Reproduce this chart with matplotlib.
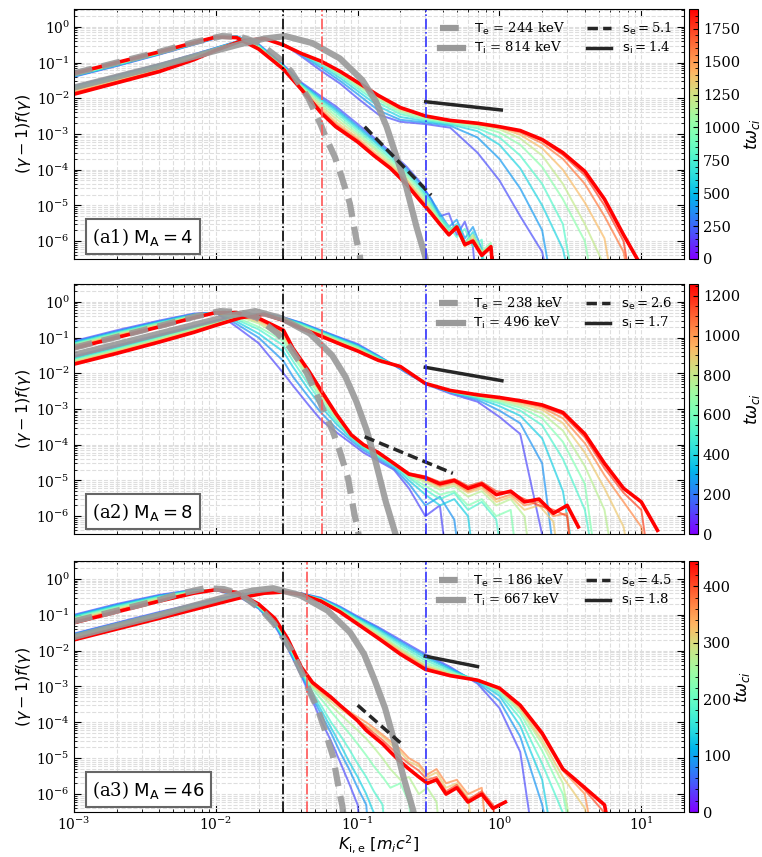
import matplotlib.pyplot as plt
from matplotlib import colors, cm
from matplotlib.lines import Line2D
from matplotlib.ticker import LogLocator, NullFormatter, FixedLocator

plt.rcParams['font.family'] = 'DejaVu Serif'
plt.rcParams['mathtext.fontset'] = 'dejavusans'

OFF = 1e-9  # below the axis: the curve has left the plot

# ---------------- panel (a1) M_A = 4 ----------------
p1_tmax = 1900
p1_t = [200, 400, 600, 800, 1000, 1200, 1400, 1600, 1750, 1900]
p1_xi = [1e-3, 2e-3, 4e-3, 7e-3, 1e-2, 1.5e-2, 2.2e-2, 3e-2, 4e-2, 5.5e-2, 7.5e-2, 0.1, 0.14,
         0.2, 0.3, 0.45, 0.7, 1.0, 1.4, 2.0, 2.8, 4.0, 5.5, 7.5, 10]
p1_ion = [
    [0.022, 0.044, 0.09, 0.17, 0.26, 0.42, 0.48, 0.33, 0.15, 0.06, 0.026, 0.01, 3.5e-3, 2.2e-3, 1.9e-3, 1.5e-3, 3e-4, 5e-5, 5e-6, 5e-7],
    [0.0215, 0.043, 0.088, 0.167, 0.257, 0.42, 0.48, 0.33, 0.165, 0.072, 0.031, 0.013, 4.6e-3, 2.5e-3, 2.1e-3, 1.7e-3, 8e-4, 2e-4, 3e-5, 2e-6],
    [0.021, 0.041, 0.085, 0.162, 0.252, 0.415, 0.48, 0.33, 0.17, 0.083, 0.037, 0.016, 6e-3, 3e-3, 2.3e-3, 1.85e-3, 1.2e-3, 5e-4, 1.1e-4, 1e-5, 6e-7],
    [0.0195, 0.039, 0.081, 0.157, 0.247, 0.41, 0.48, 0.33, 0.174, 0.093, 0.043, 0.019, 7.5e-3, 3.6e-3, 2.5e-3, 1.95e-3, 1.45e-3, 8e-4, 2.5e-4, 4e-5, 3e-6],
    [0.018, 0.036, 0.076, 0.15, 0.24, 0.41, 0.48, 0.325, 0.177, 0.1, 0.047, 0.022, 9e-3, 4.1e-3, 2.7e-3, 2.1e-3, 1.65e-3, 1.1e-3, 5e-4, 1.2e-4, 1.5e-5, 1e-6],
    [0.017, 0.033, 0.071, 0.143, 0.233, 0.405, 0.48, 0.32, 0.18, 0.104, 0.051, 0.024, 0.0102, 4.6e-3, 2.9e-3, 2.2e-3, 1.8e-3, 1.35e-3, 7.5e-4, 2.5e-4, 4e-5, 3e-6, 2e-7],
    [0.0155, 0.031, 0.065, 0.136, 0.227, 0.4, 0.48, 0.32, 0.18, 0.107, 0.054, 0.026, 0.011, 5e-3, 3.1e-3, 2.3e-3, 1.9e-3, 1.5e-3, 9.5e-4, 4e-4, 1e-4, 1.2e-5, 1.2e-6],
    [0.0145, 0.029, 0.061, 0.13, 0.224, 0.4, 0.475, 0.315, 0.18, 0.109, 0.056, 0.027, 0.0115, 5.2e-3, 3.15e-3, 2.35e-3, 1.95e-3, 1.55e-3, 1.1e-3, 5.5e-4, 2e-4, 4e-5, 5e-6, 5e-7],
    [0.0137, 0.028, 0.058, 0.125, 0.222, 0.4, 0.472, 0.312, 0.18, 0.11, 0.057, 0.0275, 0.0118, 5.4e-3, 3.2e-3, 2.4e-3, 2.0e-3, 1.6e-3, 1.2e-3, 6.5e-4, 2.6e-4, 7e-5, 1e-5, 1e-6],
    [0.013, 0.027, 0.056, 0.12, 0.22, 0.4, 0.47, 0.31, 0.18, 0.11, 0.057, 0.028, 0.012, 5.5e-3, 3.2e-3, 2.4e-3, 2.0e-3, 1.6e-3, 1.25e-3, 7e-4, 3e-4, 9e-5, 1.5e-5, 1.5e-6, 2e-7],
]
p1_xe = [1e-3, 2e-3, 4e-3, 7e-3, 1e-2, 1.4e-2, 2e-2, 3e-2, 4e-2, 5.5e-2, 7e-2, 0.1, 0.13, 0.17,
         0.22, 0.27, 0.33, 0.38, 0.44, 0.5, 0.57, 0.65, 0.75, 0.87, 1.0]
p1_ele = [
    [0.04, 0.08, 0.168, 0.318, 0.478, 0.55, 0.33, 0.086, 0.028, 0.0115, 6e-3, 1.9e-3, 8e-4, 3.2e-4, 1.25e-4, 5e-5, 1.5e-5, 5e-6, 6e-6, 1.5e-6, 3.5e-6, 7e-7],
    [0.041, 0.082, 0.172, 0.325, 0.485, 0.545, 0.32, 0.082, 0.026, 0.0102, 5.2e-3, 1.65e-3, 7e-4, 2.8e-4, 1.1e-4, 4.5e-5, 1.5e-5, 6e-6, 2.5e-6, 4e-6, 1.2e-6, 2.5e-6, 6e-7],
    [0.042, 0.084, 0.175, 0.33, 0.49, 0.54, 0.31, 0.079, 0.0245, 9.3e-3, 4.6e-3, 1.45e-3, 6.2e-4, 2.5e-4, 9.5e-5, 3.8e-5, 1.2e-5, 5e-6, 2e-6, 3e-6, 9e-7, 1.8e-6, 4e-7],
    [0.0435, 0.087, 0.178, 0.337, 0.495, 0.535, 0.295, 0.077, 0.0235, 8.3e-3, 4e-3, 1.25e-3, 5.3e-4, 2.1e-4, 8.3e-5, 3.2e-5, 1.05e-5, 4.2e-6, 2.6e-6, 1.3e-6, 2.2e-6, 7e-7, 1.1e-6],
    [0.045, 0.09, 0.182, 0.344, 0.5, 0.525, 0.28, 0.074, 0.022, 7.3e-3, 3.3e-3, 1.07e-3, 4.5e-4, 1.8e-4, 7e-5, 2.7e-5, 9e-6, 3.8e-6, 2e-6, 2.8e-6, 9e-7, 1.4e-6, 5e-7, 9e-7],
    [0.046, 0.092, 0.185, 0.35, 0.503, 0.52, 0.27, 0.072, 0.021, 6.3e-3, 2.7e-3, 9.2e-4, 3.9e-4, 1.55e-4, 5.8e-5, 2.2e-5, 8e-6, 3.4e-6, 1.7e-6, 2.3e-6, 8e-7, 1.5e-6, 5e-7, 7e-7],
    [0.047, 0.095, 0.19, 0.354, 0.508, 0.512, 0.255, 0.069, 0.0195, 5.3e-3, 2.2e-3, 7.8e-4, 3.2e-4, 1.35e-4, 5.2e-5, 1.9e-5, 7e-6, 3.1e-6, 1.6e-6, 2.1e-6, 7e-7, 1.2e-6, 4e-7, 6e-7],
    [0.048, 0.097, 0.194, 0.357, 0.512, 0.507, 0.248, 0.067, 0.0188, 4.6e-3, 1.9e-3, 6.9e-4, 2.8e-4, 1.2e-4, 4.6e-5, 1.7e-5, 6.5e-6, 3e-6, 1.5e-6, 2.4e-6, 7.5e-7, 1.1e-6, 4.5e-7, 6.5e-7],
    [0.049, 0.099, 0.197, 0.359, 0.516, 0.503, 0.244, 0.066, 0.0183, 4.3e-3, 1.75e-3, 6.4e-4, 2.6e-4, 1.15e-4, 4.2e-5, 1.6e-5, 6.2e-6, 2.9e-6, 1.5e-6, 2.2e-6, 8e-7, 1e-6, 4e-7, 7e-7],
    [0.05, 0.1, 0.2, 0.36, 0.52, 0.5, 0.24, 0.065, 0.018, 4e-3, 1.6e-3, 6e-4, 2.5e-4, 1.1e-4, 4e-5, 1.5e-5, 6e-6, 3e-6, 1.5e-6, 2.5e-6, 8e-7, 1e-6, 4e-7, 7e-7],
]
p1_te_x = [1e-3, 2e-3, 4e-3, 7e-3, 1.1e-2, 1.5e-2, 2e-2, 2.8e-2, 3.4e-2, 4.5e-2, 5.5e-2, 6e-2, 6.9e-2, 7.7e-2, 8.8e-2, 9.8e-2, 0.103, 0.108]
p1_te_y = [0.05, 0.1, 0.2, 0.37, 0.55, 0.52, 0.36, 0.13, 0.056, 1.0e-2, 1.8e-3, 7.6e-4, 2.3e-4, 6.4e-5, 1.15e-5, 1.1e-6, 4.7e-7, 1e-7]
p1_ti_x = [1e-3, 2e-3, 4e-3, 8e-3, 1.5e-2, 2.2e-2, 3.1e-2, 4.8e-2, 7.5e-2, 0.108, 0.135, 0.16, 0.19, 0.22, 0.26, 0.3, 0.32]
p1_ti_y = [0.02, 0.04, 0.08, 0.17, 0.33, 0.47, 0.55, 0.35, 0.13, 0.032, 8e-3, 1.6e-3, 2e-4, 3.3e-5, 2.5e-6, 3.6e-7, 1e-7]
p1_se_x, p1_se_y = [0.112, 0.33], [1.6e-3, 1.95e-5]
p1_si_x, p1_si_y = [0.302, 1.03], [8e-3, 4.7e-3]
p1_vlines = [0.03, 0.0557, 0.301]
p1_legend = ['244', '814', '5.1', '1.4']
p1_cticks = [0, 250, 500, 750, 1000, 1250, 1500, 1750]

# ---------------- panel (a2) M_A = 8 ----------------
p2_tmax = 1260
p2_t = [120, 250, 380, 510, 640, 770, 900, 1030, 1150, 1260]
p2_xi = [1e-3, 2e-3, 4e-3, 7e-3, 1e-2, 1.5e-2, 2.2e-2, 3e-2, 4e-2, 5.5e-2, 7.5e-2, 0.1, 0.14,
         0.2, 0.3, 0.45, 0.7, 1.0, 1.4, 2.0, 2.8, 4.0, 5.5, 7.5, 10, 13]
p2_ion = [
    [0.03, 0.06, 0.12, 0.21, 0.3, 0.42, 0.47, 0.37, 0.26, 0.16, 0.1, 0.066, 0.031, 0.013, 5e-3, 2.7e-3, 1.6e-3, 6e-4, 2e-4, 3e-7],
    [0.028, 0.056, 0.113, 0.2, 0.29, 0.41, 0.47, 0.365, 0.255, 0.155, 0.097, 0.062, 0.03, 0.0135, 5.1e-3, 2.9e-3, 1.8e-3, 9e-4, 4e-4, 3e-5],
    [0.026, 0.052, 0.107, 0.19, 0.28, 0.405, 0.465, 0.355, 0.245, 0.148, 0.092, 0.059, 0.029, 0.014, 5.1e-3, 3e-3, 2e-3, 1.2e-3, 6.5e-4, 1.5e-4, 5e-6],
    [0.025, 0.049, 0.101, 0.183, 0.272, 0.4, 0.462, 0.345, 0.235, 0.142, 0.087, 0.056, 0.028, 0.0143, 5.2e-3, 3.05e-3, 2.1e-3, 1.45e-3, 9e-4, 3.5e-4, 4e-5, 1.5e-6],
    [0.023, 0.046, 0.095, 0.176, 0.262, 0.395, 0.46, 0.337, 0.222, 0.136, 0.082, 0.053, 0.026, 0.0147, 5.2e-3, 3.1e-3, 2.2e-3, 1.6e-3, 1.1e-3, 5.5e-4, 1.2e-4, 8e-6],
    [0.022, 0.044, 0.09, 0.168, 0.25, 0.388, 0.458, 0.328, 0.21, 0.13, 0.078, 0.05, 0.025, 0.015, 5.2e-3, 3.2e-3, 2.3e-3, 1.75e-3, 1.25e-3, 7.5e-4, 2.5e-4, 2.5e-5, 1.5e-6],
    [0.0205, 0.041, 0.085, 0.158, 0.24, 0.375, 0.455, 0.315, 0.195, 0.122, 0.073, 0.046, 0.024, 0.0152, 5.2e-3, 3.25e-3, 2.4e-3, 1.9e-3, 1.4e-3, 9.5e-4, 4e-4, 6e-5, 6e-6, 5e-7],
    [0.0195, 0.039, 0.08, 0.15, 0.232, 0.368, 0.452, 0.308, 0.188, 0.117, 0.07, 0.044, 0.0235, 0.0153, 5.2e-3, 3.3e-3, 2.45e-3, 2.0e-3, 1.55e-3, 1.1e-3, 5.5e-4, 1.1e-4, 1.4e-5, 2.5e-6, 5e-7],
    [0.0188, 0.037, 0.077, 0.145, 0.226, 0.363, 0.45, 0.303, 0.183, 0.113, 0.068, 0.043, 0.0232, 0.0154, 5.2e-3, 3.3e-3, 2.5e-3, 2.05e-3, 1.65e-3, 1.2e-3, 7e-4, 1.6e-4, 2.2e-5, 4.5e-6, 1.5e-6],
    [0.018, 0.036, 0.075, 0.14, 0.22, 0.36, 0.45, 0.3, 0.18, 0.11, 0.066, 0.042, 0.023, 0.0155, 5.2e-3, 3.3e-3, 2.5e-3, 2.1e-3, 1.7e-3, 1.3e-3, 8e-4, 2e-4, 3e-5, 6e-6, 2.5e-6, 4e-7],
]
p2_xe = [1e-3, 2e-3, 4e-3, 7e-3, 1e-2, 1.4e-2, 2e-2, 3e-2, 3.5e-2, 4.5e-2, 5.5e-2, 7e-2, 9e-2, 0.11,
         0.14, 0.18, 0.23, 0.3, 0.38, 0.48, 0.6, 0.75, 0.95, 1.2, 1.5, 1.9, 2.4, 3.0, 3.6]
p2_ele = [
    [0.08, 0.16, 0.3, 0.47, 0.5, 0.2, 0.07, 0.01, 4.5e-3, 1.3e-3, 5e-4, 2.3e-4, 1.1e-4, 6e-5, 3.5e-5, 2e-5, 6e-6, 1e-6, 2e-6],
    [0.076, 0.15, 0.285, 0.455, 0.5, 0.24, 0.1, 0.022, 8e-3, 2.2e-3, 8e-4, 3e-4, 1.3e-4, 7e-5, 4e-5, 2.2e-5, 8e-6, 2e-6, 3.5e-6, 8e-7],
    [0.072, 0.14, 0.27, 0.44, 0.5, 0.28, 0.13, 0.04, 0.015, 3.5e-3, 1.2e-3, 4e-4, 1.5e-4, 8e-5, 4.5e-5, 2.5e-5, 1e-5, 4e-6, 2e-6, 3e-6, 1e-6],
    [0.068, 0.135, 0.26, 0.425, 0.5, 0.32, 0.17, 0.06, 0.022, 5e-3, 1.6e-3, 4.8e-4, 1.6e-4, 8.5e-5, 4.8e-5, 2.7e-5, 1.2e-5, 5.5e-6, 3e-6, 4.5e-6, 1.5e-6, 2.5e-6, 8e-7],
    [0.065, 0.13, 0.25, 0.41, 0.5, 0.36, 0.2, 0.08, 0.03, 7e-3, 2e-3, 5.5e-4, 1.7e-4, 9e-5, 5e-5, 2.8e-5, 1.3e-5, 7e-6, 4e-6, 5e-6, 2e-6, 3e-6, 1e-6, 1.5e-6],
    [0.061, 0.122, 0.235, 0.395, 0.5, 0.41, 0.25, 0.1, 0.037, 8.5e-3, 2.5e-3, 6.2e-4, 1.8e-4, 9.5e-5, 5.5e-5, 3e-5, 1.4e-5, 9e-6, 5.5e-6, 7e-6, 3.5e-6, 5e-6, 2e-6, 3e-6, 1e-6],
    [0.058, 0.116, 0.225, 0.385, 0.5, 0.44, 0.28, 0.12, 0.042, 9.8e-3, 2.8e-3, 6.8e-4, 1.85e-4, 9.8e-5, 5.8e-5, 3e-5, 1.5e-5, 1e-5, 6.5e-6, 8e-6, 4.5e-6, 6e-6, 2.5e-6, 3.5e-6, 1.5e-6, 2e-6, 7e-7],
    [0.055, 0.11, 0.21, 0.37, 0.5, 0.47, 0.31, 0.14, 0.046, 0.011, 3e-3, 7e-4, 1.85e-4, 1e-4, 6e-5, 3e-5, 1.5e-5, 1.1e-5, 7e-6, 9e-6, 5e-6, 7e-6, 3e-6, 4e-6, 2e-6, 2.5e-6, 1e-6, 1.2e-6],
    [0.052, 0.104, 0.205, 0.365, 0.5, 0.49, 0.33, 0.15, 0.048, 0.0115, 3.2e-3, 7.3e-4, 1.9e-4, 1e-4, 6e-5, 3e-5, 1.6e-5, 1.3e-5, 9e-6, 1.1e-5, 7e-6, 9e-6, 5e-6, 4.5e-6, 3e-6, 2e-6, 1.5e-6, 1e-6],
    [0.05, 0.1, 0.2, 0.36, 0.5, 0.5, 0.35, 0.16, 0.05, 0.012, 3.4e-3, 7.6e-4, 1.9e-4, 1e-4, 6e-5, 3e-5, 1.5e-5, 1.2e-5, 8e-6, 1e-5, 6e-6, 8e-6, 4e-6, 5e-6, 2.5e-6, 3e-6, 1.2e-6, 2e-6, 5e-7],
]
p2_te_x = [1e-3, 2e-3, 4e-3, 7e-3, 1.07e-2, 1.46e-2, 1.95e-2, 2.73e-2, 3.3e-2, 4.4e-2, 5.35e-2, 5.85e-2, 6.7e-2, 7.5e-2, 8.55e-2, 9.5e-2, 0.1, 0.105]
p2_te_y = [0.052, 0.104, 0.21, 0.38, 0.55, 0.52, 0.36, 0.13, 0.056, 1.0e-2, 1.8e-3, 7.6e-4, 2.3e-4, 6.4e-5, 1.15e-5, 1.1e-6, 4.7e-7, 1e-7]
p2_ti_x = [1e-3, 2e-3, 4e-3, 8e-3, 1.3e-2, 1.9e-2, 2.9e-2, 4.6e-2, 6.6e-2, 8.2e-2, 9.8e-2, 0.116, 0.134, 0.158, 0.183, 0.2]
p2_ti_y = [0.033, 0.065, 0.13, 0.26, 0.42, 0.55, 0.35, 0.13, 0.032, 8e-3, 1.6e-3, 2.5e-4, 3.3e-5, 2.5e-6, 3.6e-7, 1e-7]
p2_se_x, p2_se_y = [0.112, 0.469], [1.67e-4, 1.58e-5]
p2_si_x, p2_si_y = [0.3, 1.04], [0.0147, 6.2e-3]
p2_vlines = [0.03, 0.0557, 0.301]
p2_legend = ['238', '496', '2.6', '1.7']
p2_cticks = [0, 200, 400, 600, 800, 1000, 1200]

# ---------------- panel (a3) M_A = 46 ----------------
p3_tmax = 445
p3_t = [45, 90, 135, 180, 225, 270, 315, 360, 400, 445]
p3_xi = [1e-3, 2e-3, 4e-3, 7e-3, 1e-2, 1.5e-2, 2.2e-2, 3e-2, 4e-2, 5.5e-2, 7.5e-2, 0.1, 0.14,
         0.2, 0.3, 0.45, 0.7, 1.0, 1.4, 2.0, 2.8, 4.0, 5.5, 7.5]
p3_ion = [
    [0.03, 0.06, 0.12, 0.2, 0.27, 0.37, 0.44, 0.45, 0.4, 0.3, 0.17, 0.09, 0.045, 0.02, 8e-3, 3.5e-3, 1.2e-3, 2.5e-4, 1.5e-5],
    [0.029, 0.058, 0.115, 0.195, 0.26, 0.36, 0.435, 0.447, 0.395, 0.29, 0.162, 0.085, 0.042, 0.018, 7.2e-3, 3.2e-3, 1.3e-3, 4e-4, 4e-5, 5e-7],
    [0.028, 0.055, 0.11, 0.188, 0.25, 0.35, 0.43, 0.445, 0.39, 0.28, 0.155, 0.08, 0.039, 0.016, 6.3e-3, 3e-3, 1.4e-3, 5.5e-4, 8e-5, 2.5e-6],
    [0.026, 0.052, 0.104, 0.178, 0.24, 0.34, 0.425, 0.442, 0.387, 0.272, 0.148, 0.075, 0.035, 0.014, 5.4e-3, 2.7e-3, 1.5e-3, 6.5e-4, 1.3e-4, 7e-6, 3e-7],
    [0.025, 0.05, 0.098, 0.17, 0.23, 0.33, 0.418, 0.438, 0.383, 0.265, 0.14, 0.069, 0.031, 0.012, 4.6e-3, 2.45e-3, 1.5e-3, 7.5e-4, 1.8e-4, 1.6e-5, 1e-6],
    [0.024, 0.048, 0.094, 0.165, 0.22, 0.32, 0.41, 0.435, 0.38, 0.26, 0.135, 0.065, 0.028, 0.011, 4e-3, 2.3e-3, 1.5e-3, 8e-4, 2.2e-4, 2.5e-5, 2e-6],
    [0.023, 0.046, 0.09, 0.158, 0.215, 0.315, 0.408, 0.432, 0.377, 0.255, 0.131, 0.062, 0.026, 0.0102, 3.7e-3, 2.2e-3, 1.5e-3, 8.3e-4, 2.4e-4, 3.2e-5, 3e-6, 4e-7],
    [0.022, 0.044, 0.086, 0.15, 0.208, 0.31, 0.405, 0.43, 0.374, 0.25, 0.127, 0.059, 0.024, 9.2e-3, 3.4e-3, 2.1e-3, 1.5e-3, 8.6e-4, 2.7e-4, 4.2e-5, 4.5e-6, 1e-6],
    [0.021, 0.042, 0.083, 0.145, 0.204, 0.305, 0.402, 0.43, 0.372, 0.245, 0.123, 0.057, 0.023, 8.5e-3, 3.2e-3, 2.05e-3, 1.5e-3, 8.8e-4, 2.9e-4, 4.7e-5, 5e-6, 1.3e-6, 3e-7],
    [0.02, 0.04, 0.08, 0.14, 0.2, 0.3, 0.4, 0.43, 0.37, 0.24, 0.12, 0.055, 0.022, 8e-3, 3e-3, 2e-3, 1.5e-3, 9e-4, 3e-4, 5e-5, 5e-6, 1.5e-6, 5e-7],
]
p3_xe = [1e-3, 2e-3, 4e-3, 7e-3, 1e-2, 1.4e-2, 2e-2, 2.6e-2, 3.2e-2, 4e-2, 4.8e-2, 5.6e-2, 6.5e-2,
         7.5e-2, 8.7e-2, 0.1, 0.115, 0.13, 0.15, 0.17, 0.2, 0.23, 0.27, 0.31, 0.36, 0.42, 0.5,
         0.6, 0.75, 0.9, 1.1]
p3_ele = [
    [0.1, 0.2, 0.36, 0.5, 0.48, 0.35, 0.15, 0.05, 0.012, 2e-3, 4e-4, 1e-4, 3e-5, 8e-6, 2e-6, 5e-7],
    [0.096, 0.19, 0.345, 0.49, 0.485, 0.36, 0.155, 0.054, 0.013, 2.2e-3, 5e-4, 1.5e-4, 5e-5, 1.5e-5, 5e-6, 1.5e-6, 5e-7],
    [0.092, 0.18, 0.33, 0.48, 0.49, 0.37, 0.16, 0.058, 0.014, 2.4e-3, 6e-4, 2e-4, 7e-5, 2.5e-5, 8e-6, 3e-6, 1e-6, 3e-7],
    [0.087, 0.17, 0.32, 0.47, 0.49, 0.38, 0.165, 0.061, 0.015, 2.6e-3, 7e-4, 2.7e-4, 1e-4, 4.5e-5, 1.8e-5, 7e-6, 3e-6, 1.2e-6, 5e-7],
    [0.082, 0.162, 0.305, 0.455, 0.495, 0.39, 0.172, 0.066, 0.017, 2.9e-3, 8.8e-4, 4.2e-4, 2e-4, 1e-4, 5e-5, 2.5e-5, 1.2e-5, 6e-6, 3e-6, 1.5e-6, 2e-6, 6e-7],
    [0.076, 0.15, 0.29, 0.44, 0.5, 0.4, 0.18, 0.07, 0.018, 3.1e-3, 1e-3, 5.5e-4, 3e-4, 1.7e-4, 1e-4, 6e-5, 3.5e-5, 2e-5, 1e-5, 5e-6, 2.5e-6, 3e-6, 1e-6, 1.5e-6, 6e-7],
    [0.071, 0.14, 0.27, 0.43, 0.5, 0.405, 0.185, 0.072, 0.019, 3.2e-3, 1.1e-3, 6.3e-4, 3.8e-4, 2.4e-4, 1.6e-4, 1.1e-4, 8e-5, 6e-5, 4e-5, 2.5e-5, 1.5e-5, 8e-6, 6e-6, 3e-6, 4e-6, 1.5e-6, 2e-6, 8e-7],
    [0.067, 0.133, 0.258, 0.415, 0.5, 0.41, 0.19, 0.075, 0.02, 3.3e-3, 1.2e-3, 7e-4, 4.5e-4, 3e-4, 2e-4, 1.4e-4, 1e-4, 7e-5, 4.5e-5, 3e-5, 1.8e-5, 1e-5, 7e-6, 3.5e-6, 5e-6, 2e-6, 2.5e-6, 1e-6, 1.5e-6],
    [0.063, 0.126, 0.248, 0.405, 0.5, 0.415, 0.195, 0.078, 0.021, 3.4e-3, 1.25e-3, 7.5e-4, 4.8e-4, 3e-4, 1.9e-4, 1.2e-4, 7.5e-5, 5e-5, 3.2e-5, 2e-5, 1.1e-5, 7e-6, 4.5e-6, 2.5e-6, 3e-6, 1.2e-6, 1.8e-6, 7e-7, 1.2e-6, 5e-7],
    [0.06, 0.12, 0.24, 0.4, 0.5, 0.42, 0.2, 0.08, 0.022, 3.5e-3, 1.3e-3, 8e-4, 5e-4, 3e-4, 1.8e-4, 1.1e-4, 6e-5, 4e-5, 2.5e-5, 1.5e-5, 8e-6, 5e-6, 3e-6, 2e-6, 2.5e-6, 1e-6, 1.5e-6, 6e-7, 1e-6, 4e-7, 6e-7],
]
p3_te_x = [1e-3, 2e-3, 4e-3, 5.3e-3, 8.4e-3, 1.14e-2, 1.52e-2, 2.13e-2, 2.58e-2, 3.42e-2, 4.18e-2, 4.56e-2, 5.24e-2, 5.85e-2, 6.69e-2, 7.45e-2, 7.8e-2, 8.2e-2]
p3_te_y = [0.066, 0.13, 0.26, 0.37, 0.55, 0.52, 0.36, 0.13, 0.056, 1.0e-2, 1.8e-3, 7.6e-4, 2.3e-4, 6.4e-5, 1.15e-5, 1.1e-6, 4.7e-7, 1e-7]
p3_ti_x = [1e-3, 2e-3, 4e-3, 6.6e-3, 1.23e-2, 1.8e-2, 2.54e-2, 3.94e-2, 6.15e-2, 8.86e-2, 0.111, 0.131, 0.156, 0.18, 0.213, 0.246, 0.262]
p3_ti_y = [0.024, 0.049, 0.098, 0.17, 0.33, 0.47, 0.55, 0.35, 0.13, 0.032, 8e-3, 1.6e-3, 2.5e-4, 3.3e-5, 2.5e-6, 3.6e-7, 1e-7]
p3_se_x, p3_se_y = [0.1, 0.2], [3e-4, 2.7e-5]
p3_si_x, p3_si_y = [0.3, 0.7], [7e-3, 3.6e-3]
p3_vlines = [0.03, 0.044, 0.301]
p3_legend = ['186', '667', '4.5', '1.8']
p3_cticks = [0, 100, 200, 300, 400]

x_ticks = [1e-3, 1e-2, 1e-1, 1e0, 1e1]
y_ticks = [1e-6, 1e-5, 1e-4, 1e-3, 1e-2, 1e-1, 1e0]

panels = [
    ('(a1)', '4', p1_tmax, p1_t, p1_xi, p1_ion, p1_xe, p1_ele, p1_te_x, p1_te_y, p1_ti_x, p1_ti_y,
     p1_se_x, p1_se_y, p1_si_x, p1_si_y, p1_vlines, p1_legend, p1_cticks),
    ('(a2)', '8', p2_tmax, p2_t, p2_xi, p2_ion, p2_xe, p2_ele, p2_te_x, p2_te_y, p2_ti_x, p2_ti_y,
     p2_se_x, p2_se_y, p2_si_x, p2_si_y, p2_vlines, p2_legend, p2_cticks),
    ('(a3)', '46', p3_tmax, p3_t, p3_xi, p3_ion, p3_xe, p3_ele, p3_te_x, p3_te_y, p3_ti_x, p3_ti_y,
     p3_se_x, p3_se_y, p3_si_x, p3_si_y, p3_vlines, p3_legend, p3_cticks),
]


def padded(x, row):
    # rows stop where the spectrum has fallen off the bottom of the plot
    return list(row) + [OFF] * (len(x) - len(row))


W, H = 762, 857
fig = plt.figure(figsize=(W / 100, H / 100), dpi=100)
rows = [(9, 259), (284, 534), (561, 812)]
cmap = plt.get_cmap('rainbow')

for k, (tag, ma, tmax, tt, xi, ion, xe, ele, tex, tey, tix, tiy, sex, sey, six, siy, vl, leg, cticks) in enumerate(panels):
    top, bot = rows[k]
    ax = fig.add_axes([74 / W, 1 - bot / H, 610 / W, (bot - top) / H])
    cax = fig.add_axes([689 / W, 1 - bot / H, 9 / W, (bot - top) / H])
    norm = colors.Normalize(0, tmax)

    for j, t in enumerate(tt):
        last = j == len(tt) - 1
        c = cmap(norm(t))
        lw = 2.6 if last else 1.4
        a = 1 if last else 0.7
        ax.plot(xi, padded(xi, ion[j]), color=c, lw=lw, alpha=a)
        ax.plot(xe, padded(xe, ele[j]), color=c, lw=lw, alpha=a)

    ax.plot(tex, tey, color='0.6', lw=4.5, ls=(0, (3, 1.6)), alpha=0.9)
    ax.plot(tix, tiy, color='0.6', lw=4.5, alpha=0.9)
    ax.plot(sex, sey, color='0.15', lw=2.5, ls=(0, (3, 1.5)))
    ax.plot(six, siy, color='0.15', lw=2.5)

    ax.axvline(vl[0], color='k', ls='-.', lw=1.2)
    ax.axvline(vl[1], color='#ff5555', ls='-.', lw=1.2)
    ax.axvline(vl[2], color='#3333ff', ls='-.', lw=1.2)

    ax.set_xscale('log')
    ax.set_yscale('log')
    ax.set_xlim(1e-3, 20)
    ax.set_ylim(10 ** -6.5, 10 ** 0.5)
    ax.xaxis.set_major_locator(FixedLocator(x_ticks))
    ax.yaxis.set_major_locator(FixedLocator(y_ticks))
    ax.yaxis.set_minor_locator(LogLocator(base=10, subs=range(2, 10), numticks=20))
    ax.yaxis.set_minor_formatter(NullFormatter())
    ax.grid(True, which='both', ls='--', color='0.87', lw=0.8)
    ax.set_axisbelow(True)
    ax.tick_params(which='both', direction='in', top=True, right=True, labelsize=10)
    ax.tick_params(which='major', length=5, pad=3)
    ax.tick_params(which='minor', length=2.5)
    ax.set_ylabel(r'$(\gamma-1)f(\gamma)$', fontsize=11.5, labelpad=2)
    if k < 2:
        ax.tick_params(labelbottom=False)
    else:
        ax.set_xlabel(r'$K_{\rm i,e}\ [m_ic^2]$', fontsize=11.5, labelpad=0)

    ax.text(0.03, 0.065, tag + r' $\mathrm{M_A = ' + ma + '}$', transform=ax.transAxes, fontsize=13,
            bbox=dict(boxstyle='square,pad=0.35', fc='white', ec='0.4', lw=1.5))

    handles = [
        Line2D([], [], color='0.6', lw=4.5, ls=(0, (3, 1.6))),
        Line2D([], [], color='0.6', lw=4.5),
        Line2D([], [], color='0.15', lw=2.5, ls=(0, (3, 1.5))),
        Line2D([], [], color='0.15', lw=2.5),
    ]
    labels = [r'$\mathrm{T_e}$ = ' + leg[0] + ' keV', r'$\mathrm{T_i}$ = ' + leg[1] + ' keV',
              r'$\mathrm{s_e} = $' + leg[2], r'$\mathrm{s_i} = $' + leg[3]]
    ax.legend(handles, labels, ncol=2, loc='upper right', frameon=False, fontsize=9.5,
              handlelength=1.8, handletextpad=0.8, columnspacing=1.7, labelspacing=0.25,
              borderaxespad=0.5)

    cb = fig.colorbar(cm.ScalarMappable(norm=norm, cmap=cmap), cax=cax, ticks=cticks)
    cb.ax.minorticks_on()
    cb.ax.tick_params(which='both', direction='in', labelsize=10.5)
    cb.set_label(r'$t\omega_{ci}$', fontsize=12, labelpad=1)

fig.savefig('out.png', dpi=100)
